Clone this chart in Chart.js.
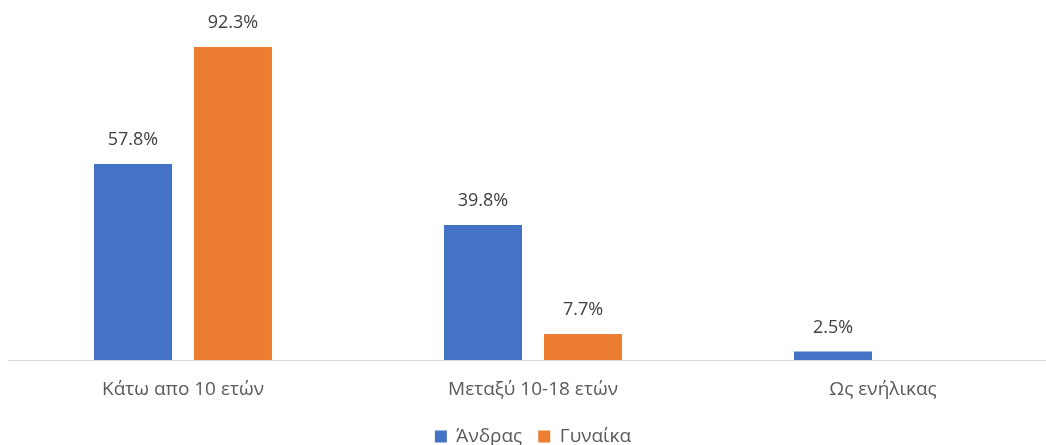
<!DOCTYPE html>
<html>
<head>
<meta charset="utf-8">
<script src="https://cdn.jsdelivr.net/npm/chart.js@4"></script>
<style>
  html, body { margin: 0; padding: 0; background: #fff; overflow: hidden; }
  #wrap { width: 1058px; height: 445px; }
</style>
</head>
<body>
<div id="wrap"><canvas id="chart"></canvas></div>
<script>
const categories = ['Κάτω απο 10 ετών', 'Μεταξύ 10-18 ετών', 'Ως ενήλικας'];
const andras = [57.8, 39.8, 2.5];
const gynaika = [92.3, 7.7, null];

const FONT = "'Open Sans', 'Noto Sans', sans-serif";

// draws the value above each bar, like Excel data labels
const barLabels = {
  id: 'barLabels',
  afterDatasetsDraw(chart) {
    const ctx = chart.ctx;
    ctx.save();
    ctx.font = `18px ${FONT}`;
    ctx.fillStyle = '#404040';
    ctx.textAlign = 'center';
    ctx.textBaseline = 'middle';
    chart.data.datasets.forEach((ds, i) => {
      chart.getDatasetMeta(i).data.forEach((bar, j) => {
        const v = ds.data[j];
        if (v == null) return;
        ctx.fillText(v.toFixed(1) + '%', bar.x, bar.y - 24);
      });
    });
    ctx.restore();
  }
};

new Chart(document.getElementById('chart'), {
  type: 'bar',
  data: {
    labels: categories,
    datasets: [
      { label: 'Άνδρας', data: andras, backgroundColor: '#4472c4' },
      { label: 'Γυναίκα', data: gynaika, backgroundColor: '#ed7d31' }
    ]
  },
  options: {
    responsive: true,
    maintainAspectRatio: false,
    animation: false,
    layout: { padding: { left: 8, right: 0, top: 21, bottom: -11 } },
    datasets: { bar: { categoryPercentage: 0.5714, barPercentage: 0.78 } },
    scales: {
      x: {
        grid: { display: false },
        border: { color: '#d9d9d9', width: 1 },
        ticks: { color: '#595959', font: { family: FONT, size: 19 }, padding: 10 },
        afterFit(scale) { scale.height = 51; }
      },
      y: { display: false, min: 0, max: 100 }
    },
    plugins: {
      legend: {
        position: 'bottom',
        labels: {
          color: '#595959',
          font: { family: FONT, size: 19 },
          boxWidth: 12,
          boxHeight: 12,
          padding: 16
        }
      },
      tooltip: { enabled: false }
    }
  },
  plugins: [barLabels]
});
</script>
</body>
</html>
